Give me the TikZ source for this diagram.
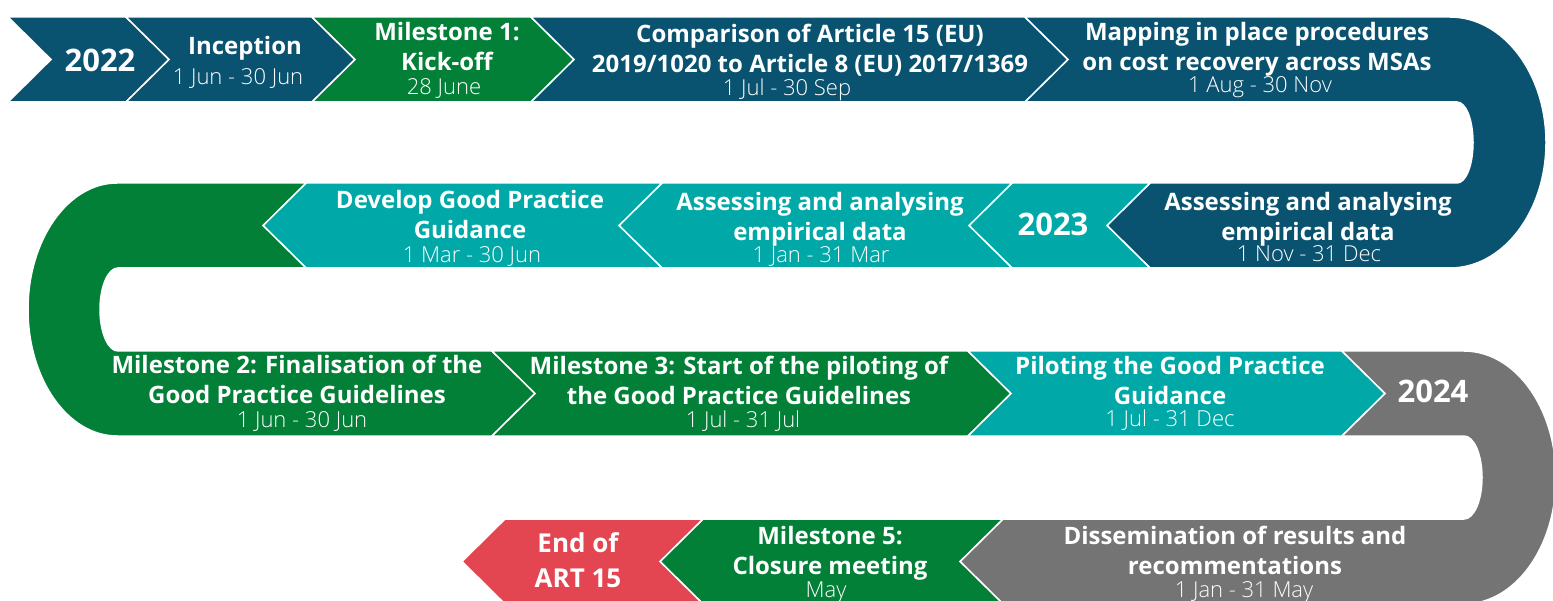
\documentclass[tikz,border=0pt]{standalone}
\usepackage{fontspec}
\setmainfont{Open Sans}
\IfFontExistsTF{Open Sans Light}{\newfontfamily\datefont{Open Sans Light}}{\newfontfamily\datefont{Open Sans}}
\usepackage{tikz}
\definecolor{rowblue}{RGB}{10,83,112}
\definecolor{rowgreen}{RGB}{2,128,55}
\definecolor{rowteal}{RGB}{0,169,168}
\definecolor{rowgrey}{RGB}{116,116,116}
\definecolor{rowred}{RGB}{227,70,81}

\begin{document}
\begin{tikzpicture}[x=1pt, y=-1pt,
	band/.style={draw=white, line width=1.5pt, line join=miter},
	title/.style={text=white, align=center, inner sep=0pt, font=\bfseries\fontsize{24}{30}\selectfont},
	year/.style={text=white, inner sep=0pt, font=\bfseries\fontsize{31}{36}\selectfont},
	date/.style={text=white, anchor=base, inner sep=0pt, font=\datefont\fontsize{22}{24}\selectfont}]
	\useasboundingbox (0,0) rectangle (1553,601);
	\clip (0,0) rectangle (1553,601);

	% 2022
	\filldraw[band, fill=rowblue] (8,17) -- (126,17) -- (169,59.5) -- (126,102) -- (8,102) -- (51,59.5) -- cycle;
	\filldraw[band, fill=rowblue] (126,17) -- (312,17) -- (355,59.5) -- (312,102) -- (126,102) -- (169,59.5) -- cycle;
	\filldraw[band, fill=rowgreen] (312,17) -- (531,17) -- (574,59.5) -- (531,102) -- (312,102) -- (355,59.5) -- cycle;
	\filldraw[band, fill=rowblue] (531,17) -- (1025,17) -- (1068,59.5) -- (1025,102) -- (531,102) -- (574,59.5) -- cycle;
	\filldraw[band, fill=rowblue] (1025,17) -- (1450,17)
		.. controls (1503,17) and (1546,73.2) .. (1546,142.5)
		.. controls (1546,211.8) and (1503,268) .. (1450,268)
		-- (1150,268) -- (1107,225.5) -- (1150,183) -- (1457,183)
		.. controls (1466,183) and (1473,165) .. (1473,142.5)
		.. controls (1473,120) and (1466,102) .. (1457,102)
		-- (1025,102) -- (1068,59.5) -- cycle;

	% 2023
	\filldraw[band, fill=rowteal] (1150,183) -- (1012,183) -- (969,225.5) -- (1012,268) -- (1150,268) -- (1107,225.5) -- cycle;
	\filldraw[band, fill=rowteal] (1012,183) -- (662,183) -- (619,225.5) -- (662,268) -- (1012,268) -- (969,225.5) -- cycle;
	\filldraw[band, fill=rowteal] (662,183) -- (306,183) -- (263,225.5) -- (306,268) -- (662,268) -- (619,225.5) -- cycle;
	\filldraw[band, fill=rowgreen] (306,183) -- (117,183)
		.. controls (68,183) and (28,239.6) .. (28,309.5)
		.. controls (28,379.4) and (68,436) .. (117,436)
		-- (492,436) -- (535,393.5) -- (492,351) -- (118,351)
		.. controls (108,351) and (100,332.4) .. (100,309.5)
		.. controls (100,286.6) and (108,268) .. (118,268)
		-- (306,268) -- (263,225.5) -- cycle;
	\filldraw[band, fill=rowgreen] (492,351) -- (968,351) -- (1011,393.5) -- (968,436) -- (492,436) -- (535,393.5) -- cycle;
	\filldraw[band, fill=rowteal] (968,351) -- (1342,351) -- (1385,393.5) -- (1342,436) -- (968,436) -- (1011,393.5) -- cycle;

	% 2024
	\filldraw[band, fill=rowgrey] (1342,351) -- (1464,351)
		.. controls (1515,351) and (1556,407.6) .. (1556,477.5)
		.. controls (1556,547.4) and (1515,604) .. (1464,604)
		-- (1003,604) -- (960,561.5) -- (1003,519) -- (1464,519)
		.. controls (1474,519) and (1482,500.4) .. (1482,477.5)
		.. controls (1482,454.6) and (1474,436) .. (1464,436)
		-- (1342,436) -- (1385,393.5) -- cycle;
	\filldraw[band, fill=rowgreen] (1003,519) -- (703,519) -- (660,561.5) -- (703,604) -- (1003,604) -- (960,561.5) -- cycle;
	\filldraw[band, fill=rowred] (703,519) -- (505,519) -- (462,561.5) -- (505,604) -- (703,604) -- (660,561.5) -- cycle;

	\node[year] (y2022) at (100,60) {2022};
	\node[title] (inception) at (245,48.5) {Inception};
	\node[date] (inception-date) at (238,85) {1 Jun - 30 Jun};
	\node[title] (kickoff) at (447,46.5) {Milestone 1:\\Kick-off};
	\node[date] (kickoff-date) at (444,95) {28 June};
	\node[title] (comparison) at (810,50) {Comparison of Article 15 (EU)\\2019/1020 to Article 8 (EU) 2017/1369};
	\node[date] (comparison-date) at (787,96) {1 Jul - 30 Sep};
	\node[title] (mapping) at (1257,49.5) {Mapping in place procedures\\on cost recovery across MSAs};
	\node[date] (mapping-date) at (1260,93) {1 Aug - 30 Nov};

	\node[title] (assess-nov) at (1308,219.5) {Assessing and analysing\\empirical data};
	\node[date] (assess-nov-date) at (1309,262) {1 Nov - 31 Dec};
	\node[year] (y2023) at (1053,224) {2023};
	\node[title] (assess-jan) at (820,219.5) {Assessing and analysing\\empirical data};
	\node[date] (assess-jan-date) at (821,263) {1 Jan - 31 Mar};
	\node[title] (develop) at (470,214.5) {Develop Good Practice\\Guidance};
	\node[date] (develop-date) at (472,263) {1 Mar - 30 Jun};

	\node[title] (finalisation) at (297,379) {Milestone 2: Finalisation of the\\Good Practice Guidelines};
	\node[date] (finalisation-date) at (302,428) {1 Jun - 30 Jun};
	\node[title] (piloting-start) at (739,380) {Milestone 3: Start of the piloting of\\the Good Practice Guidelines};
	\node[date] (piloting-start-date) at (743,428) {1 Jul - 31 Jul};
	\node[title] (piloting) at (1170,380.5) {Piloting the Good Practice\\Guidance};
	\node[date] (piloting-date) at (1170,427) {1 Jul - 31 Dec};
	\node[year] (y2024) at (1433,391) {2024};

	\node[title] (dissemination) at (1235,550) {Dissemination of results and\\recommentations};
	\node[date] (dissemination-date) at (1244,597) {1 Jan - 31 May};
	\node[title] (closure) at (830,553.5) {Milestone 5:\\Closure meeting};
	\node[date] (closure-date) at (826,597) {May};
	\node[title, font=\bfseries\fontsize{26}{35}\selectfont] (art-end) at (578,560) {End of\\ART 15};
\end{tikzpicture}
\end{document}
